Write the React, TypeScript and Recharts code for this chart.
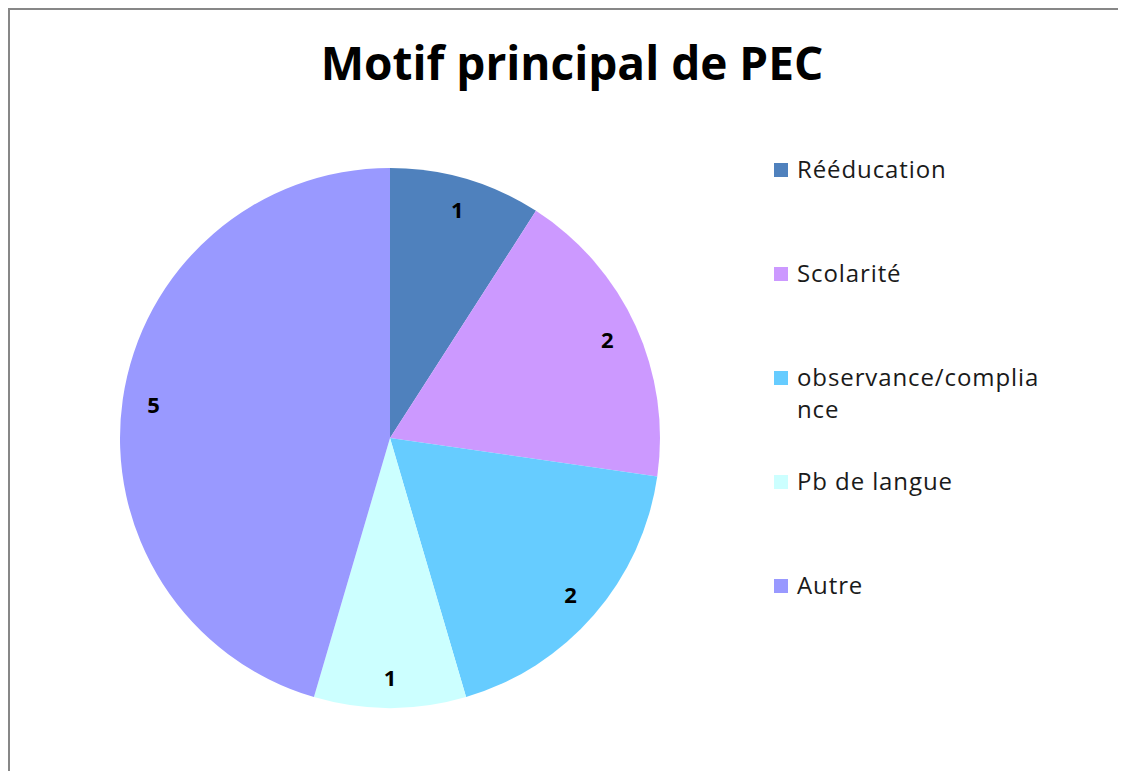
import React from 'react';
import { PieChart, Pie, Cell, Legend } from 'recharts';

const categories = ['Rééducation', 'Scolarité', 'observance/compliance', 'Pb de langue', 'Autre'];
const values = [1, 2, 2, 1, 5];
const colors = ['#4F81BD', '#CC99FF', '#66CCFF', '#CCFFFF', '#9999FF'];
const title = 'Motif principal de PEC';

const data = categories.map((name, i) => ({ name, value: values[i] }));

const FONT = "'Open Sans', 'DejaVu Sans', sans-serif";
const RAD = Math.PI / 180;

const renderLabel = (props: any) => {
  const { cx, cy, midAngle, outerRadius, value } = props;
  const r = outerRadius * 0.885;
  const x = cx + r * Math.cos(-midAngle * RAD);
  const y = cy + r * Math.sin(-midAngle * RAD);
  return (
    <text x={x} y={y} textAnchor="middle" dominantBaseline="central" fontFamily={FONT} fontWeight="bold" fontSize={22} fill="#000">
      {value}
    </text>
  );
};

const renderLegend = (props: any) => {
  const payload = [...(props.payload || [])].sort(
    (a: any, b: any) => categories.indexOf(a.value) - categories.indexOf(b.value)
  );
  return (
    <div style={{ fontFamily: FONT, fontSize: 24, letterSpacing: 0.9, color: '#1a1a1a' }}>
      {payload.map((entry: any, i: number) => (
        <div key={i} style={{ display: 'flex', alignItems: 'flex-start', height: 104 }}>
          <div style={{ width: 14, height: 14, background: entry.color, marginTop: 10, marginRight: 9, flexShrink: 0 }} />
          <div style={{ width: 252, lineHeight: '32px', wordBreak: 'break-all' }}>{entry.value}</div>
        </div>
      ))}
    </div>
  );
};

export default function App() {
  return (
    <div style={{ position: 'relative', width: 1118, height: 763, boxSizing: 'border-box', borderTop: '2px solid #878787', borderLeft: '2px solid #878787', background: '#fff' }}>
      <div style={{ position: 'absolute', left: 62, width: 1000, top: 24, textAlign: 'center', fontFamily: FONT, fontWeight: 'bold', fontSize: 46, lineHeight: '56px', color: '#000' }}>
        {title}
      </div>
      <div style={{ position: 'absolute', left: -2, top: -2 }}>
        <PieChart width={1118} height={763} margin={{ top: 0, right: 0, bottom: 0, left: 0 }}>
          <Pie
            data={data}
            dataKey="value"
            nameKey="name"
            cx={382}
            cy={430}
            outerRadius={270}
            startAngle={90}
            endAngle={-270}
            stroke="none"
            label={renderLabel}
            labelLine={false}
            isAnimationActive={false}
          >
            {data.map((d, i) => (
              <Cell key={d.name} fill={colors[i]} />
            ))}
          </Pie>
          <Legend
            layout="vertical"
            content={renderLegend}
            wrapperStyle={{ position: 'absolute', left: 766, top: 145, width: 330 }}
          />
        </PieChart>
      </div>
    </div>
  );
}
